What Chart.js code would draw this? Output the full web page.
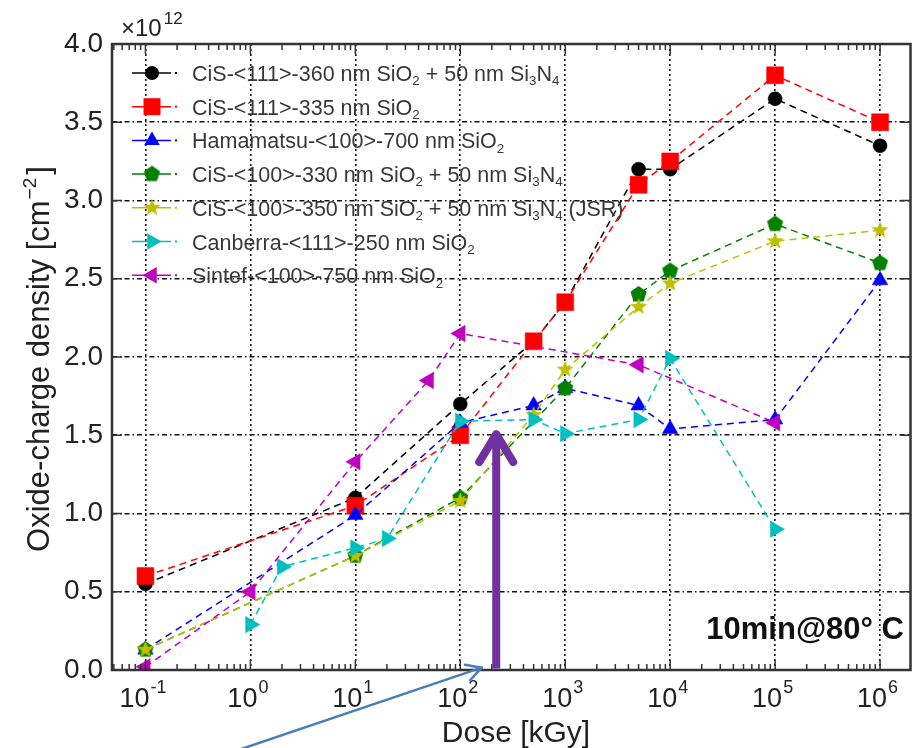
<!DOCTYPE html>
<html><head><meta charset="utf-8">
<script src="https://cdn.jsdelivr.net/npm/chart.js@4.4.1/dist/chart.umd.min.js"></script>
<style>html,body{margin:0;padding:0;background:#fff;}canvas{display:block;}</style>
</head><body>
<canvas id="c" width="923" height="748"></canvas>
<script>
// ---------- data ----------
const seriesNames = [
  "CiS-<111>-360 nm SiO_2 + 50 nm Si_3N_4",
  "CiS-<111>-335 nm SiO_2",
  "Hamamatsu-<100>-700 nm SiO_2",
  "CiS-<100>-330 nm SiO_2 + 50 nm Si_3N_4",
  "CiS-<100>-350 nm SiO_2 + 50 nm Si_3N_4 (JSR)",
  "Canberra-<111>-250 nm SiO_2",
  "Sintef-<100>-750 nm SiO_2"
];
const doseCis111N = [0.1, 10, 100, 500, 1000, 5000, 1e4, 1e5, 1e6];
const valCis111N  = [0.55, 1.1, 1.7, 2.1, 2.35, 3.2, 3.2, 3.65, 3.35];
const doseCis111  = [0.1, 10, 100, 500, 1000, 5000, 1e4, 1e5, 1e6];
const valCis111   = [0.6, 1.05, 1.5, 2.1, 2.35, 3.1, 3.25, 3.8, 3.5];
const doseHama    = [0.1, 10, 100, 500, 1000, 5000, 1e4, 1e5, 1e6];
const valHama     = [0.13, 0.99, 1.58, 1.69, 1.8, 1.69, 1.54, 1.6, 2.49];
const doseCis100N = [0.1, 10, 100, 1000, 5000, 1e4, 1e5, 1e6];
const valCis100N  = [0.13, 0.73, 1.1, 1.8, 2.4, 2.55, 2.85, 2.6];
const doseJSR     = [0.1, 10, 100, 500, 1000, 5000, 1e4, 1e5, 1e6];
const valJSR      = [0.13, 0.73, 1.08, 1.63, 1.92, 2.32, 2.47, 2.74, 2.81];
const doseCanb    = [1, 2, 10, 20, 100, 500, 1000, 5000, 1e4, 1e5];
const valCanb     = [0.29, 0.66, 0.78, 0.84, 1.59, 1.6, 1.51, 1.6, 1.99, 0.9];
const doseSintef  = [0.1, 1, 10, 50, 100, 5000, 1e5];
const valSintef   = [0.02, 0.5, 1.33, 1.85, 2.15, 1.95, 1.58];
const xDecades = [-1, 0, 1, 2, 3, 4, 5, 6];
const yTickStep = 0.5;
const yMin = 0, yMax = 4;
const xMin = 0.048, xMax = 1.95e6;
const scaleNote = ["×10", "12"];
const annotationText = "10min@80° C";
const xTitle = "Dose [kGy]";
const yTitle = ["Oxide-charge density [cm", "−2", "]"];
const arrowDose = 220, arrowTop = 1.52, arrowBottom = 0.01;
const blueTipDose = 160, blueTipVal = 0.015, blueTailDose = 0.70, blueTailVal = -0.52;

const doses = [doseCis111N, doseCis111, doseHama, doseCis100N, doseJSR, doseCanb, doseSintef];
const vals  = [valCis111N, valCis111, valHama, valCis100N, valJSR, valCanb, valSintef];

// ---------- marker images ----------
function makeShape(kind, r, color) {
  const c = document.createElement('canvas');
  const s = Math.ceil(2 * r + 4);
  c.width = c.height = s;
  const g = c.getContext('2d');
  g.translate(s / 2, s / 2);
  g.fillStyle = color;
  g.beginPath();
  if (kind === 'pentagon') {
    for (let i = 0; i < 5; i++) { const a = -Math.PI / 2 + i * 2 * Math.PI / 5; g.lineTo(r * Math.cos(a), r * Math.sin(a)); }
  } else {
    for (let i = 0; i < 10; i++) { const a = -Math.PI / 2 + i * Math.PI / 5; const rr = i % 2 ? r * 0.42 : r; g.lineTo(rr * Math.cos(a), rr * Math.sin(a)); }
  }
  g.closePath(); g.fill();
  return c;
}
const colors = ['#000000', '#ff0000', '#0000ff', '#007f00', '#bfbf00', '#00bfbf', '#bf00bf'];
const pentImg = makeShape('pentagon', 8.5, colors[3]);
const starImg = makeShape('star', 9, colors[4]);
const marks = [
  { style: 'circle', r: 7, rot: 0 },
  { style: 'rect', r: 12, rot: 0 },
  { style: 'triangle', r: 9, rot: 0 },
  { style: pentImg, r: 8, rot: 0 },
  { style: starImg, r: 9, rot: 0 },
  { style: 'triangle', r: 9.5, rot: 90 },
  { style: 'triangle', r: 9.5, rot: -90 }
];

const datasets = seriesNames.map((n, i) => ({
  label: n,
  order: 10 - i,
  data: doses[i].map((d, k) => ({ x: d, y: vals[i][k] })),
  borderColor: colors[i],
  backgroundColor: colors[i],
  borderWidth: 1.5,
  borderDash: [7, 5],
  pointStyle: marks[i].style,
  pointRadius: marks[i].r,
  pointRotation: marks[i].rot,
  pointBorderWidth: 0.5,
  pointBorderColor: colors[i],
  pointBackgroundColor: colors[i],
  fill: false,
  tension: 0
}));

const isMajor = v => { const l = Math.log10(v); return Math.abs(l - Math.round(l)) < 1e-9; };
const FONT = '"Liberation Sans", Arial, Helvetica, sans-serif';

function drawRich(ctx, str, x, y, size, color) {
  const parts = [];
  let i = 0, buf = '';
  while (i < str.length) {
    if (str[i] === '_' && i + 1 < str.length) { if (buf) parts.push([buf, 0]); buf = ''; parts.push([str[i + 1], 1]); i += 2; }
    else { buf += str[i]; i++; }
  }
  if (buf) parts.push([buf, 0]);
  let cx = x;
  ctx.fillStyle = color;
  ctx.textBaseline = 'alphabetic';
  ctx.textAlign = 'left';
  for (const [t, sub] of parts) {
    if (sub) { ctx.font = (size * 0.62) + 'px ' + FONT; ctx.fillText(t, cx, y + size * 0.2); }
    else { ctx.font = size + 'px ' + FONT; ctx.fillText(t, cx, y); }
    cx += ctx.measureText(t).width;
  }
}

function legendMarker(ctx, i, x, y) {
  const m = marks[i];
  ctx.fillStyle = colors[i];
  ctx.beginPath();
  if (m.style === 'circle') { ctx.arc(x, y, m.r, 0, Math.PI * 2); ctx.fill(); }
  else if (m.style === 'rect') { const s = m.r * Math.SQRT1_2; ctx.fillRect(x - s, y - s, 2 * s, 2 * s); }
  else if (m.style === 'triangle') {
    let rad = m.rot * Math.PI / 180;
    ctx.moveTo(x + Math.sin(rad) * m.r, y - Math.cos(rad) * m.r);
    rad += 2 * Math.PI / 3; ctx.lineTo(x + Math.sin(rad) * m.r, y - Math.cos(rad) * m.r);
    rad += 2 * Math.PI / 3; ctx.lineTo(x + Math.sin(rad) * m.r, y - Math.cos(rad) * m.r);
    ctx.closePath(); ctx.fill();
  } else { ctx.drawImage(m.style, x - m.style.width / 2, y - m.style.height / 2); }
}

const deco = {
  id: 'deco',
  afterDraw(chart) {
    const { ctx, chartArea: a, scales: { x, y } } = chart;
    ctx.save();
    ctx.setLineDash([]);
    // ticks
    ctx.strokeStyle = '#333'; ctx.lineWidth = 1.5;
    const seg = (x1, y1, x2, y2) => { ctx.beginPath(); ctx.moveTo(x1, y1); ctx.lineTo(x2, y2); ctx.stroke(); };
    for (let p = -2; p <= 6; p++) for (let m = 1; m <= 9; m++) {
      const v = m * Math.pow(10, p);
      if (v < x.min || v > x.max) continue;
      const px = x.getPixelForValue(v);
      const L = m === 1 ? 10 : 6;
      seg(px, a.bottom, px, a.bottom - L); seg(px, a.top, px, a.top + L);
    }
    for (let v = yMin; v <= yMax + 1e-9; v += yTickStep) {
      const py = y.getPixelForValue(v);
      seg(a.left, py, a.left + 10, py); seg(a.right, py, a.right - 10, py);
    }
    // box
    ctx.lineWidth = 2.5; ctx.strokeStyle = '#333';
    ctx.strokeRect(a.left, a.top, a.right - a.left, a.bottom - a.top);
    // x tick labels
    ctx.fillStyle = '#222';
    for (const p of xDecades) {
      const px = x.getPixelForValue(Math.pow(10, p));
      const sup = p < 0 ? '-' + (-p) : String(p);
      ctx.font = '27px ' + FONT; const w1 = ctx.measureText('10').width;
      ctx.font = '18px ' + FONT; const w2 = ctx.measureText(sup).width;
      const x0 = px - (w1 + w2) / 2 - 3;
      ctx.textAlign = 'left'; ctx.textBaseline = 'alphabetic';
      ctx.font = '27px ' + FONT; ctx.fillText('10', x0, 707);
      ctx.font = '18px ' + FONT; ctx.fillText(sup, x0 + w1 + 1, 693);
    }
    // x title
    ctx.font = '30px ' + FONT; ctx.textAlign = 'center';
    ctx.fillText(xTitle, 516, 742);
    // y title
    ctx.save();
    ctx.translate(49, 359); ctx.rotate(-Math.PI / 2);
    ctx.font = '31px ' + FONT; const t1 = ctx.measureText(yTitle[0]).width;
    ctx.font = '19px ' + FONT; const t2 = ctx.measureText(yTitle[1]).width;
    ctx.font = '31px ' + FONT; const t3 = ctx.measureText(yTitle[2]).width;
    let sx = -(t1 + t2 + t3 + 4) / 2;
    ctx.textAlign = 'left';
    ctx.font = '31px ' + FONT; ctx.fillText(yTitle[0], sx, 0); sx += t1 + 1;
    ctx.font = '19px ' + FONT; ctx.fillText(yTitle[1], sx, -13); sx += t2 + 3;
    ctx.font = '31px ' + FONT; ctx.fillText(yTitle[2], sx, 0);
    ctx.restore();
    // x10^12
    ctx.textAlign = 'left';
    ctx.font = '24px ' + FONT; ctx.fillText(scaleNote[0], 121, 36);
    const wn = ctx.measureText(scaleNote[0]).width;
    ctx.font = '17px ' + FONT; ctx.fillText(scaleNote[1], 121 + wn + 2, 24);
    // annotation
    ctx.font = 'bold 31px ' + FONT; ctx.textAlign = 'right'; ctx.fillStyle = '#111';
    ctx.fillText(annotationText, 904, 639);
    // legend
    seriesNames.forEach((n, i) => {
      const ly = 73 + i * 33.7;
      ctx.strokeStyle = colors[i]; ctx.lineWidth = 1.5;
      seg(132, ly, 171, ly);
      ctx.fillStyle = colors[i]; ctx.fillRect(175, ly - 1, 2, 2);
      legendMarker(ctx, i, 152, ly);
      drawRich(ctx, n, 192, ly + 8, 21.5, '#383838');
    });
    // purple arrow
    const ax = x.getPixelForValue(arrowDose), aTop = y.getPixelForValue(arrowTop), aBot = y.getPixelForValue(arrowBottom);
    ctx.strokeStyle = '#7030a0'; ctx.lineWidth = 8; ctx.lineCap = 'butt';
    seg(ax, aBot, ax, aTop + 3);
    ctx.lineCap = 'round'; ctx.lineJoin = 'round';
    ctx.beginPath(); ctx.moveTo(ax - 17, aTop + 30); ctx.lineTo(ax, aTop + 2); ctx.lineTo(ax + 17, aTop + 30); ctx.stroke();
    // blue arrow
    const bx = x.getPixelForValue(blueTipDose), by = y.getPixelForValue(blueTipVal);
    const tx = x.getPixelForValue(blueTailDose), ty = y.getPixelForValue(blueTailVal);
    ctx.strokeStyle = '#4a7ebb'; ctx.lineWidth = 2.5; ctx.lineCap = 'round';
    seg(tx, ty, bx, by);
    const ang = Math.atan2(by - ty, bx - tx);
    ctx.beginPath();
    ctx.moveTo(bx - 17 * Math.cos(ang - 0.5), by - 17 * Math.sin(ang - 0.5));
    ctx.lineTo(bx, by);
    ctx.lineTo(bx - 17 * Math.cos(ang + 0.5), by - 17 * Math.sin(ang + 0.5));
    ctx.stroke();
    ctx.restore();
  }
};

new Chart(document.getElementById('c'), {
  type: 'line',
  data: { datasets },
  options: {
    responsive: false,
    animation: false,
    devicePixelRatio: 1,
    layout: { padding: { left: 0, right: 5, top: 44, bottom: 0 } },
    plugins: { legend: { display: false }, tooltip: { enabled: false } },
    scales: {
      x: {
        type: 'logarithmic', min: xMin, max: xMax,
        afterFit: s => { s.height = 78; },
        ticks: { display: false },
        border: { display: false, dash: [2, 3] },
        grid: {
          drawTicks: false, lineWidth: 1.6,
          color: c => (c.tick && isMajor(c.tick.value)) ? '#111' : 'rgba(0,0,0,0)'
        }
      },
      y: {
        type: 'linear', min: yMin, max: yMax,
        afterFit: s => { s.width = 112; },
        ticks: { stepSize: yTickStep, padding: 9, color: '#222', font: { size: 28, family: FONT }, callback: v => v.toFixed(1) },
        border: { display: false, dash: [5, 3, 1.5, 3] },
        grid: {
          drawTicks: false, lineWidth: 1.6,
          color: c => (c.tick && c.tick.value > yMin && c.tick.value < yMax) ? '#111' : 'rgba(0,0,0,0)'
        }
      }
    }
  },
  plugins: [deco]
});
</script>
</body></html>
